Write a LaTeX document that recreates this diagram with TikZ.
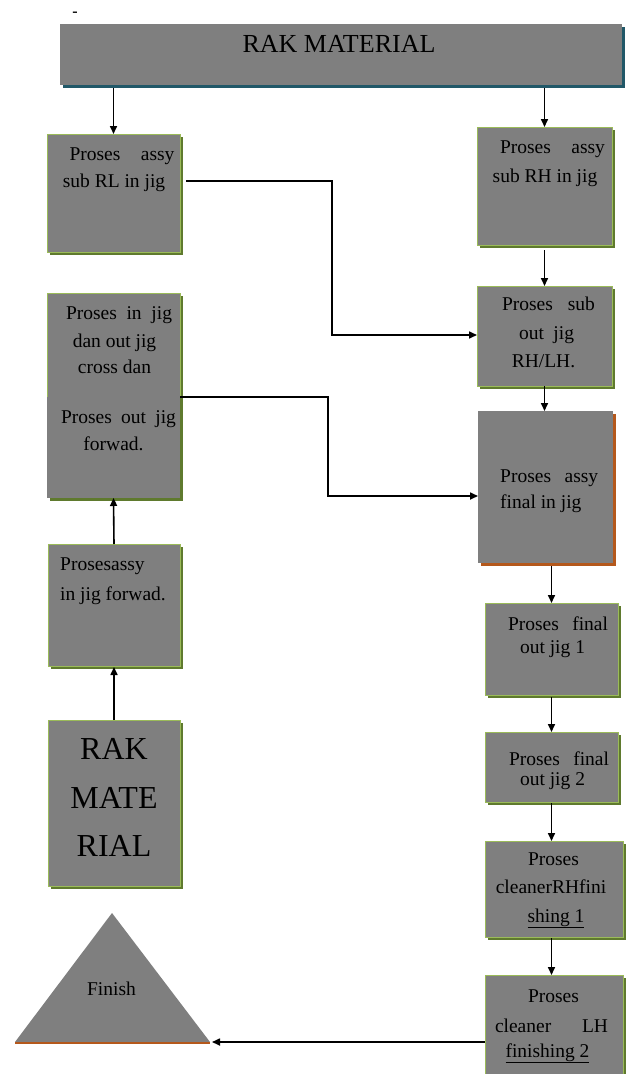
\documentclass[tikz,border=0pt]{standalone}
\usepackage{fontspec}
\setmainfont{Liberation Serif}
\usetikzlibrary{arrows.meta,shadows}
\definecolor{boxgray}{HTML}{7F7F7F}
\definecolor{lgreen}{HTML}{9BBB59}
\definecolor{dgreen}{HTML}{5F7A2E}
\definecolor{tealline}{HTML}{215868}
\definecolor{orng}{HTML}{B4581C}
\begin{document}
\begin{tikzpicture}[x=1pt,y=-1pt,
  box/.style={rectangle,fill=boxgray,draw=lgreen,line width=0.9pt,inner sep=0pt,outer sep=0pt,
    drop shadow={shadow xshift=2.5pt,shadow yshift=-2.5pt,fill=dgreen,opacity=1}},
  plainbox/.style={rectangle,fill=boxgray,draw=none,inner sep=0pt,outer sep=0pt,
    drop shadow={shadow xshift=2.5pt,shadow yshift=-2.5pt,fill=dgreen,opacity=1}},
  topbox/.style={rectangle,fill=boxgray,draw=none,inner sep=0pt,outer sep=0pt,
    drop shadow={shadow xshift=2.5pt,shadow yshift=-3pt,fill=tealline,opacity=1}},
  finalbox/.style={rectangle,fill=boxgray,draw=none,inner sep=0pt,outer sep=0pt,
    drop shadow={shadow xshift=3pt,shadow yshift=-3pt,fill=orng,opacity=1}},
  tx/.style={inner sep=0pt,anchor=base,font=\fontsize{19.5}{27}\selectfont},
  txl/.style={tx,anchor=base west},
  bigtx/.style={inner sep=0pt,anchor=base,font=\fontsize{32}{40}\selectfont},
  arr/.style={line width=1.6pt,-{Triangle[length=8pt,width=7pt]}},
]
\useasboundingbox (0,0) rectangle (625,1074);

% boxes
\node[topbox,minimum width=562pt,minimum height=61pt] (top) at (341,54.5) {};
\node[box,minimum width=133pt,minimum height=118pt] (subRL) at (113.5,193) {};
\node[box,minimum width=135pt,minimum height=118pt] (RH) at (544.5,186) {};
\node[box,minimum width=135pt,minimum height=100pt] (subout) at (544.5,336) {};
\node[box,minimum width=133pt,minimum height=104pt] (b2a) at (113.5,345) {};
\node[plainbox,minimum width=133pt,minimum height=101pt] (b2b) at (113.5,447.5) {};
\node[finalbox,minimum width=135pt,minimum height=152pt] (final) at (545.5,487) {};
\node[box,minimum width=132pt,minimum height=122pt] (forward) at (114,605) {};
\node[box,minimum width=132pt,minimum height=166pt] (rak) at (114,803) {};
\node[box,minimum width=133pt,minimum height=92pt] (oj1) at (551.5,649) {};
\node[box,minimum width=133pt,minimum height=70pt] (oj2) at (551.5,767) {};
\node[box,minimum width=138pt,minimum height=96pt] (crh) at (554,889) {};
\node[box,minimum width=138pt,minimum height=105pt] (clh) at (554,1027.5) {};

% finish triangle
\fill[boxgray] (15,1042) -- (112,913) -- (210,1042) -- cycle;
\draw[orng,line width=2.5pt] (15,1043) -- (210,1043);
\coordinate (finR) at (212,1042);

% texts
\node[tx,font=\fontsize{16}{20}\selectfont\bfseries] (t0) at (75,16) {-};
\node[inner sep=0pt,anchor=base,font=\fontsize{26}{30}\selectfont] (t31) at (339,52) {RAK MATERIAL};
\node[tx] (t1) at (122,160) {\makebox[105pt][s]{Proses assy}};
\node[tx] (t2) at (114,187) {sub RL in jig};
\node[tx] (t3) at (552.5,153) {\makebox[105pt][s]{Proses assy}};
\node[tx] (t4) at (545,182) {sub RH in jig};
\node[tx] (t5) at (548.5,310) {\makebox[93pt][s]{Proses sub}};
\node[tx] (t6) at (546.5,339) {\makebox[55pt][s]{out jig}};
\node[tx] (t7) at (543.5,367) {RH/LH.};
\node[tx] (t8) at (119,319) {\makebox[106pt][s]{Proses in jig}};
\node[tx] (t9) at (114.5,347) {dan out jig};
\node[tx] (t10) at (114.5,373) {cross dan};
\node[tx] (t11) at (118.5,423) {\makebox[115pt][s]{Proses out jig}};
\node[tx] (t12) at (113.5,450) {forwad.};
\node[txl] (t13) at (500,482) {\makebox[98pt][s]{Proses assy}};
\node[txl] (t14) at (500,508) {final in jig};
\node[txl] (t15) at (60,570) {Prosesassy};
\node[txl] (t16) at (60,600) {in jig forwad.};
\node[bigtx] (t17) at (114,759) {RAK};
\node[bigtx] (t18) at (114,808) {MATE};
\node[bigtx] (t19) at (114,856) {RIAL};
\node[tx] (t20) at (558,630) {\makebox[100pt][s]{Proses final}};
\node[tx] (t21) at (552.5,653) {out jig 1};
\node[tx] (t22) at (559,765) {\makebox[100pt][s]{Proses final}};
\node[tx] (t23) at (552.5,785) {out jig 2};
\node[tx] (t24) at (553.5,865) {Proses};
\node[tx] (t25) at (551,893) {cleanerRHfini};
\node[tx] (t26) at (556,922) {\underline{shing 1}};
\node[tx] (t27) at (553.5,1002) {Proses};
\node[tx] (t28) at (551.5,1032) {\makebox[113pt][s]{cleaner LH}};
\node[tx] (t29) at (547.5,1057) {\underline{finishing 2}};
\node[tx] (t30) at (111.5,995) {Finish};

% connectors
\draw[arr] ([yshift=-3pt]top.south -| subRL.north) -- (subRL.north);
\draw[arr] ([yshift=-3pt]top.south -| RH.north) -- (RH.north);
\draw[arr] ([yshift=-5pt]RH.south) -- (subout.north);
\draw[arr] (subout.south) -- (subout.south |- final.north);
\draw[arr] ([yshift=-3pt]final.south -| oj1.north) -- (oj1.north);
\draw[arr] ([yshift=-2pt]oj1.south) -- (oj2.north);
\draw[arr] ([yshift=-1pt]oj2.south) -- (oj2.south |- crh.north);
\draw[arr] ([yshift=-1pt]crh.south -| oj2.south) -- (oj2.south |- clh.north);
\draw[arr] (rak.north) -- ([yshift=-1pt]forward.south);
\draw[arr] (forward.north) -- (b2b.south);
\draw[arr] ([xshift=6pt,yshift=12pt]subRL.east) -- ++(146,0) |- ([yshift=1pt]subout.west);
\draw[arr] (b2b.north east) -- ++(148,0) |- ([yshift=-9pt]final.west);
\draw[arr] ([yshift=-14.5pt]clh.west) -- (finR);
\end{tikzpicture}
\end{document}
